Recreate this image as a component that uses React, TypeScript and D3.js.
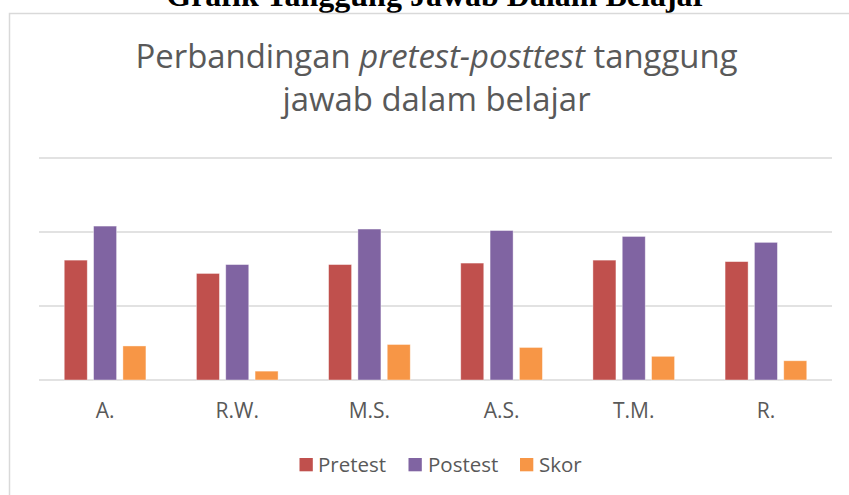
import React from "react";
import * as d3 from "d3";

const categories = ["A.", "R.W.", "M.S.", "A.S.", "T.M.", "R."];
const seriesNames = ["Pretest", "Postest", "Skor"];
const pretest = [81, 72, 78, 79, 81, 80];
const postest = [104, 78, 102, 101, 97, 93];
const skor = [23, 6, 24, 22, 16, 13];
const yTicks = [0, 50, 100, 150];
const colors = ["#C0504D", "#8064A2", "#F79646"];

const W = 849;
const H = 495;

export default function App() {
  const seriesValues = [pretest, postest, skor];
  const x0 = d3.scaleBand<string>().domain(categories).range([39, 832]).paddingInner(0).paddingOuter(0);
  const groupW = x0.step() * 0.618;
  const x1 = d3.scaleBand<string>().domain(seriesNames).range([0, groupW]).paddingInner(0.215).paddingOuter(0);
  const y = d3.scaleLinear().domain([0, 150]).range([380, 158]);
  const off = (x0.step() - groupW) / 2;
  const font = "'Open Sans', 'Noto Sans', sans-serif";

  const legendItems = [
    { name: "Pretest", sq: 299.5, tx: 318 },
    { name: "Postest", sq: 408.5, tx: 428 },
    { name: "Skor", sq: 520, tx: 539 },
  ];

  return (
    <svg width={W} height={H} style={{ position: "absolute", left: 0, top: 0, background: "#fff" }}>
      <rect x={0} y={0} width={W} height={H} fill="#fff" />
      <text x={436.5} y={6} textAnchor="middle" fontFamily="'Liberation Serif', 'Times New Roman', serif" fontWeight="bold" fontSize={32} fill="#000">
        Grafik Tanggung Jawab Dalam Belajar
      </text>
      {/* chart border */}
      <path d={`M9.5,${H} V13.5 H${W}`} fill="none" stroke="#d9d9d9" strokeWidth={1.5} />
      {/* chart title */}
      <text x={436.5} y={68} textAnchor="middle" fontFamily={font} fontWeight={400} fontSize={32.9} fill="#595959">
        <tspan>Perbandingan </tspan>
        <tspan fontStyle="italic">pretest-posttest</tspan>
        <tspan> tanggung</tspan>
      </text>
      <text x={436.5} y={111} textAnchor="middle" fontFamily={font} fontWeight={400} fontSize={32.9} fill="#595959">
        jawab dalam belajar
      </text>
      {/* gridlines */}
      {yTicks.map((t) => (
        <line key={t} x1={39} x2={832} y1={y(t)} y2={y(t)} stroke="#d9d9d9" strokeWidth={1.3} />
      ))}
      {/* bars */}
      {categories.map((c, i) => (
        <g key={c} transform={`translate(${(x0(c) as number) + off},0)`}>
          {seriesNames.map((s, j) => (
            <rect
              key={s}
              x={x1(s) as number}
              y={y(seriesValues[j][i])}
              width={x1.bandwidth()}
              height={y(0) - y(seriesValues[j][i])}
              fill={colors[j]}
              stroke="#fff"
              strokeOpacity={0.5}
              strokeWidth={0.8}
            />
          ))}
        </g>
      ))}
      {/* category labels */}
      {categories.map((c) => (
        <text key={c} x={(x0(c) as number) + x0.bandwidth() / 2} y={418} textAnchor="middle" fontFamily={font} fontSize={21} fill="#595959">
          {c}
        </text>
      ))}
      {/* legend */}
      {legendItems.map((l, i) => (
        <g key={l.name}>
          <rect x={l.sq} y={458} width={13.3} height={13.3} fill={colors[i]} />
          <text x={l.tx} y={471.5} fontFamily={font} fontSize={20.5} fill="#595959">
            {l.name}
          </text>
        </g>
      ))}
    </svg>
  );
}
